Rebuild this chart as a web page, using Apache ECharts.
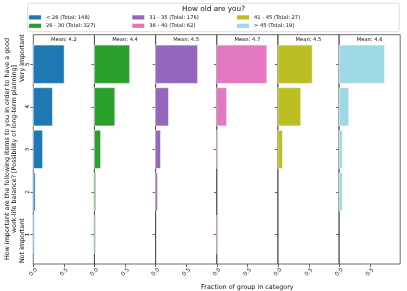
<!DOCTYPE html>
<html>
<head>
<meta charset="utf-8">
<script src="https://cdn.jsdelivr.net/npm/echarts@6/dist/echarts.min.js"></script>
<style>html,body{margin:0;padding:0;background:#fff;}#c{width:407px;height:291px;}</style>
</head>
<body>
<div id="c"></div>
<script>
// ---- data ----
const ratings = [1, 2, 3, 4, 5];
const groupNames = ['< 26 (Total: 148)', '26 - 30 (Total: 327)', '31 - 35 (Total: 176)', '36 - 40 (Total: 62)', '41 - 45 (Total: 27)', '> 45 (Total: 19)'];
const means = [4.2, 4.4, 4.5, 4.7, 4.5, 4.6];
const under26 = [0.015, 0.03, 0.15, 0.31, 0.50];
const age26to30 = [0.015, 0.02, 0.10, 0.33, 0.57];
const age31to35 = [0, 0.03, 0.08, 0.21, 0.68];
const age36to40 = [0.016, 0, 0.016, 0.16, 0.81];
const age41to45 = [0, 0, 0.074, 0.37, 0.556];
const over45 = [0, 0.053, 0.053, 0.158, 0.737];
const xTickValues = [0, 0.5];
const yTickValues = [1, 2, 3, 4, 5];
const yLabelLine1 = 'How important are the following items to you in order to have a good';
const yLabelLine2 = 'work-life balance? [Possibility of long-term planning]';
const lowLabel = 'Not important';
const highLabel = 'Very important';
const xLabel = 'Fraction of group in category';
const legendTitle = 'How old are you?';

const groupValues = [under26, age26to30, age31to35, age36to40, age41to45, over45];
const colors = ['#1f77b4', '#2ca02c', '#9467bd', '#e377c2', '#bcbd22', '#9edae5'];

// ---- layout ----
const L0 = 33.3, PW = 61.15, TOP = 34.7, PH = 229.3;
const FONT = 'DejaVu Sans';

const grids = [], xAxes = [], yAxes = [], series = [], graphics = [], legends = [];

graphics.push({type: 'rect', z: 0, shape: {x: 27.7, y: 3.3, width: 371.6, height: 28.4, r: 2},
  style: {fill: '#fff', stroke: '#d6d6d6', lineWidth: 0.8}});
graphics.push({type: 'text', x: 213.5, y: 9.5, style: {text: legendTitle, font: '7.3px ' + FONT, fill: '#111', textAlign: 'center', textVerticalAlign: 'middle'}});

groupNames.forEach((name, i) => {
  const left = L0 + PW * i;
  grids.push({left: left, top: TOP, width: PW, height: PH, show: true, borderColor: '#444', borderWidth: 0.8,
    backgroundColor: 'transparent', containLabel: false, outerBoundsMode: 'none'});
  xAxes.push({
    type: 'value', gridIndex: i, min: 0, max: 0.99,
    name: i === 3 ? xLabel : '', nameLocation: 'middle', nameGap: 19,
    nameTextStyle: {fontFamily: FONT, fontSize: 6.4, color: '#111'},
    axisLine: {show: false}, splitLine: {show: false},
    axisTick: {show: true, length: 3, customValues: xTickValues, lineStyle: {color: '#444', width: 0.8}},
    axisLabel: {customValues: xTickValues, rotate: 45, align: 'center', verticalAlign: 'middle', margin: 8,
      hideOverlap: false, fontFamily: FONT, fontSize: 5.6, color: '#222', formatter: v => v.toFixed(1)}
  });
  yAxes.push({
    type: 'value', gridIndex: i, min: 0.305, max: 5.695,
    axisLine: {show: false}, splitLine: {show: false},
    axisTick: {show: true, length: 3, customValues: yTickValues, lineStyle: {color: '#444', width: 0.8}},
    axisLabel: {show: i === 0, customValues: yTickValues, rotate: 90, margin: 3,
      fontFamily: FONT, fontSize: 5.6, color: '#222'}
  });
  const col = colors[i];
  series.push({
    type: 'custom', name: name, xAxisIndex: i, yAxisIndex: i,
    itemStyle: {color: col},
    data: ratings.map((r, k) => [groupValues[i][k], r]),
    renderItem: function (params, api) {
      const v = api.value(0), r = api.value(1);
      if (!(v > 0)) return null;
      const p0 = api.coord([0, r + 0.45]);
      const p1 = api.coord([v, r - 0.45]);
      return {type: 'rect', shape: {x: p0[0], y: p0[1], width: p1[0] - p0[0], height: p1[1] - p0[1]},
        style: {fill: col, stroke: 'rgba(255,255,255,0.55)', lineWidth: 1}};
    }
  });
  graphics.push({type: 'text', x: left + PW / 2, y: 39.6, z: 10,
    style: {text: 'Mean: ' + means[i].toFixed(1), font: '5.2px ' + FONT, fill: '#111', textAlign: 'center', textVerticalAlign: 'middle'}});
});

// legend: two rows, column-major
const legendCols = [29, 132.3, 237, 338];
const legendRows = [13.9, 22.3];
groupNames.forEach((name, i) => {
  const c = Math.floor(i / 2), r = i % 2;
  legends.push({
    data: [name], left: legendCols[c], top: legendRows[r], padding: 0,
    icon: 'rect', itemWidth: 12, itemHeight: 4.2, itemGap: 0,
    textStyle: {fontFamily: FONT, fontSize: 5.2, color: '#111', lineHeight: 7, padding: [0, 0, 0, 0]},
    selectedMode: false
  });
});

// y label lines
graphics.push({type: 'text', x: 7.3, y: 149, rotation: Math.PI / 2,
  style: {text: yLabelLine1, font: '6.4px ' + FONT, fill: '#111', textAlign: 'center', textVerticalAlign: 'middle'}});
graphics.push({type: 'text', x: 14.8, y: 149, rotation: Math.PI / 2,
  style: {text: yLabelLine2, font: '6.4px ' + FONT, fill: '#111', textAlign: 'center', textVerticalAlign: 'middle'}});
graphics.push({type: 'text', x: 22.2, y: 263, rotation: Math.PI / 2,
  style: {text: lowLabel, font: '6.4px ' + FONT, fill: '#111', textAlign: 'left', textVerticalAlign: 'middle'}});
graphics.push({type: 'text', x: 22.2, y: 82, rotation: Math.PI / 2,
  style: {text: highLabel, font: '6.4px ' + FONT, fill: '#111', textAlign: 'left', textVerticalAlign: 'middle'}});

const chart = echarts.init(document.getElementById('c'), null, {renderer: 'canvas'});
chart.setOption({
  animation: false,
  backgroundColor: '#fff',
  grid: grids, xAxis: xAxes, yAxis: yAxes, series: series,
  legend: legends, graphic: graphics
});
</script>
</body>
</html>
